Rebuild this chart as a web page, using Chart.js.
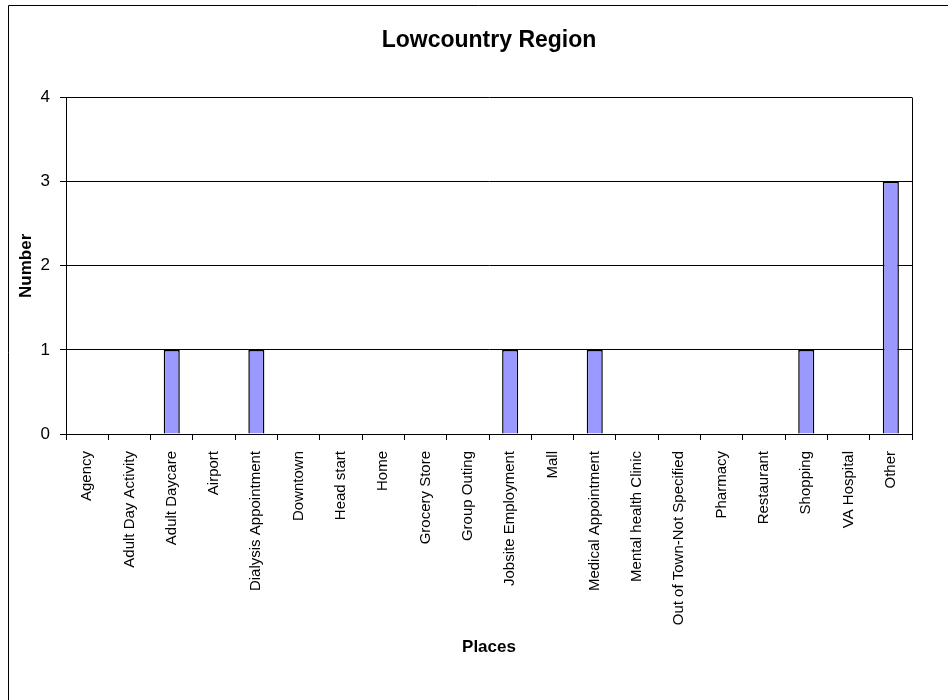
<!DOCTYPE html>
<html>
<head>
<meta charset="utf-8">
<script src="https://cdn.jsdelivr.net/npm/chart.js@4.4.0/dist/chart.umd.min.js"></script>
<style>
  html, body { margin: 0; padding: 0; background: #fff; }
  #wrap { width: 948px; height: 700px; position: relative; }
</style>
</head>
<body>
<div id="wrap"><canvas id="placesChart" width="948" height="700"></canvas></div>
<script>
const places = [
  "Agency", "Adult Day Activity", "Adult Daycare", "Airport",
  "Dialysis Appointment", "Downtown", "Head start", "Home",
  "Grocery Store", "Group Outing", "Jobsite Employment", "Mall",
  "Medical Appointment", "Mental health Clinic", "Out of Town-Not Specified",
  "Pharmacy", "Restaurant", "Shopping", "VA Hospital", "Other"
];
const counts = [0, 0, 1, 0, 1, 0, 0, 0, 0, 0, 1, 0, 1, 0, 0, 0, 0, 1, 0, 3];
const yMin = 0;
const yMax = 4;
const yStep = 1;

const FONT = "'Liberation Sans', Arial, sans-serif";

// outer frame of the chart sheet plus the box round the plot area
const frames = {
  id: "frames",
  afterDraw(chart) {
    const c = chart.ctx;
    const a = chart.chartArea;
    c.save();
    c.strokeStyle = "#000";
    c.lineWidth = 1;
    c.beginPath();
    c.moveTo(8.5, 700);
    c.lineTo(8.5, 5.5);
    c.lineTo(948, 5.5);
    c.stroke();
    c.beginPath();
    c.moveTo(Math.round(a.right) + 0.5, a.top);
    c.lineTo(Math.round(a.right) + 0.5, a.bottom);
    c.stroke();
    c.restore();
  }
};

const ctx = document.getElementById("placesChart").getContext("2d");
const chart = new Chart(ctx, {
  type: "bar",
  data: {
    labels: places,
    datasets: [{
      label: "Number",
      data: counts,
      backgroundColor: "#9999ff",
      borderColor: "#000",
      borderWidth: 1.5,
      barPercentage: 0.38,
      categoryPercentage: 1
    }]
  },
  options: {
    responsive: false,
    animation: false,
    layout: { padding: { left: 0, right: 36, top: 0, bottom: 0 } },
    plugins: {
      legend: { display: false },
      tooltip: { enabled: false },
      title: {
        display: true,
        fullSize: false,
        text: "Lowcountry Region",
        color: "#000",
        font: { family: FONT, size: 23, weight: "bold" },
        padding: { top: 27, bottom: 43 }
      }
    },
    scales: {
      x: {
        afterFit(scale) { scale.height = 266; },
        grid: { color: "#000", drawOnChartArea: false, drawTicks: true, tickLength: 6, offset: true },
        border: { color: "#000", width: 1 },
        ticks: {
          autoSkip: false,
          maxRotation: 90,
          minRotation: 90,
          padding: 11,
          color: "#000",
          font: { family: FONT, size: 15 }
        },
        title: {
          display: true,
          text: "Places",
          color: "#000",
          font: { family: FONT, size: 17, weight: "bold" },
          padding: { top: 0, bottom: 42 }
        }
      },
      y: {
        min: yMin,
        max: yMax,
        afterFit(scale) { scale.width = 66; },
        grid: { color: "#000", drawTicks: true, tickLength: 6 },
        border: { color: "#000", width: 1 },
        ticks: {
          stepSize: yStep,
          padding: 10,
          color: "#000",
          font: { family: FONT, size: 17 }
        },
        title: {
          display: true,
          text: "Number",
          color: "#000",
          font: { family: FONT, size: 17, weight: "bold" },
          padding: { top: 16, bottom: 0 }
        }
      }
    }
  },
  plugins: [frames]
});
</script>
</body>
</html>
